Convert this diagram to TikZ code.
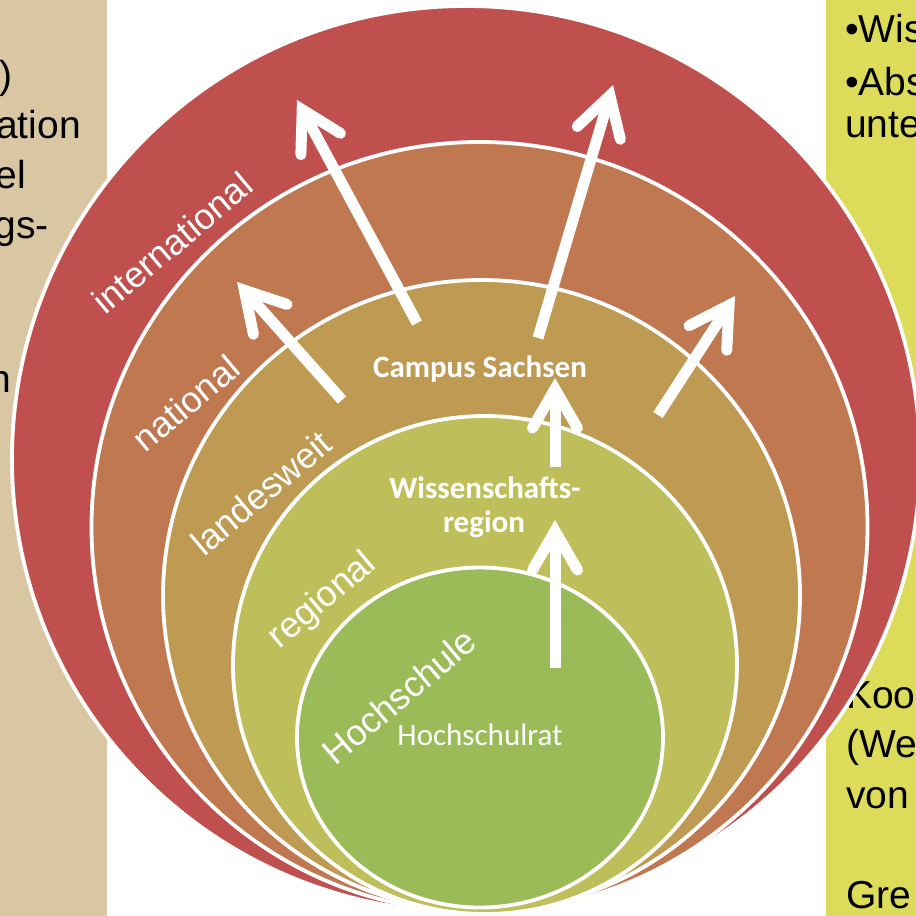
\documentclass[tikz,border=0pt]{standalone}
\usepackage{fontspec}
\setmainfont{Liberation Sans}
\newfontfamily\calibri{Carlito}
\usetikzlibrary{calc}
\definecolor{cRed}{HTML}{C0504D}
\definecolor{cNat}{HTML}{BF7850}
\definecolor{cLand}{HTML}{BE9A52}
\definecolor{cReg}{HTML}{BEBE5A}
\definecolor{cHoch}{HTML}{9BBB59}
\definecolor{cBeige}{HTML}{D9C6A2}
\definecolor{cYellow}{HTML}{DDDC5A}
\newcommand{\whitearrow}[3]{%
  \coordinate (#1v) at ($(#3)!11pt!(#2)$);
  \draw[shaft] (#2) -- (#1v);
  \draw[head] ($(#1v)!45pt!30:(#2)$) -- (#1v) -- ($(#1v)!45pt!-30:(#2)$);
}
\begin{document}
\begin{tikzpicture}[x=1pt,y=-1pt,
  ring/.style={draw=white, line width=3.8pt},
  paneltext/.style={font=\fontsize{39}{46}\selectfont, text=black, inner sep=0pt},
  ringlabel/.style={font=\fontsize{36}{42}\selectfont, text=white, inner sep=0pt, rotate=40},
  innertext/.style={font=\calibri\fontsize{31}{36}\selectfont, text=white, inner sep=0pt},
  boldtext/.style={innertext, font=\calibri\bfseries\fontsize{31}{36}\selectfont},
  shaft/.style={draw=white, line width=11pt, line cap=butt},
  head/.style={draw=white, line width=11pt, line cap=round, line join=miter}]
\useasboundingbox (0,0) rectangle (916,916);
\clip (0,0) rectangle (916,916);
% side panels
\fill[cBeige] (0,0) rectangle (107,916);
\fill[cYellow] (826,0) rectangle (916,916);
% left panel text fragments
\node[paneltext, anchor=base east] (l1) at (13,88) {)};
\node[paneltext, anchor=base east] (l2) at (81,138) {ation};
\node[paneltext, anchor=base east] (l3) at (26,188) {el};
\node[paneltext, anchor=base east] (l4) at (49,238) {gs-};
\node[paneltext, anchor=base east] (l5) at (11,392) {n};
% right panel text fragments
\node[paneltext, anchor=base west] (r1) at (845,42) {•Wis};
\node[paneltext, anchor=base west] (r2) at (845,95) {•Abs};
\node[paneltext, anchor=base west] (r3) at (845,137) {unte};
\node[paneltext, anchor=base west] (r4) at (846,708) {Koo};
\node[paneltext, anchor=base west] (r5) at (846,757) {(We};
\node[paneltext, anchor=base west] (r6) at (846,808) {von};
\node[paneltext, anchor=base west] (r7) at (846,908) {Gre};
% nested circles
\filldraw[ring, fill=cRed]  (466,459) ellipse [x radius=454pt, y radius=453pt];
\filldraw[ring, fill=cNat]  (479.5,527) ellipse [x radius=388pt, y radius=385pt];
\filldraw[ring, fill=cLand] (481.5,595.5) ellipse [x radius=318.5pt, y radius=315.5pt];
\filldraw[ring, fill=cReg]  (485,665) ellipse [x radius=252pt, y radius=249pt];
\filldraw[ring, fill=cHoch] (480,737.5) ellipse [x radius=183pt, y radius=170pt];
% ring labels
\node[ringlabel] (lint) at (172,243) {international};
\node[ringlabel] (lnat) at (186,403) {national};
\node[ringlabel] (lland) at (261,493) {landesweit};
\node[ringlabel] (lreg) at (323,601) {regional};
\node[ringlabel] (lhoch) at (399,696) {Hochschule};
% arrows
\coordinate (a1s) at (417,323); \coordinate (a1e) at (297,100);
\coordinate (a2s) at (538,338); \coordinate (a2e) at (613,85);
\coordinate (a3s) at (342,400); \coordinate (a3e) at (237,282);
\coordinate (a4s) at (658,415); \coordinate (a4e) at (735,296);
\coordinate (a5s) at (555,467); \coordinate (a5e) at (555,378);
\coordinate (a6s) at (555,668); \coordinate (a6e) at (555,520);
\whitearrow{a1}{a1s}{a1e}
\whitearrow{a2}{a2s}{a2e}
\whitearrow{a3}{a3s}{a3e}
\whitearrow{a4}{a4s}{a4e}
\whitearrow{a5}{a5s}{a5e}
\whitearrow{a6}{a6s}{a6e}
% inner texts
\node[boldtext, anchor=base] (campus) at (480,377) {Campus Sachsen};
\node[boldtext, anchor=base] (wiss) at (485,498) {Wissenschafts-};
\node[boldtext, anchor=base] (region) at (484,532) {region};
\node[innertext, anchor=base] (rat) at (480,745) {Hochschulrat};
\end{tikzpicture}
\end{document}
